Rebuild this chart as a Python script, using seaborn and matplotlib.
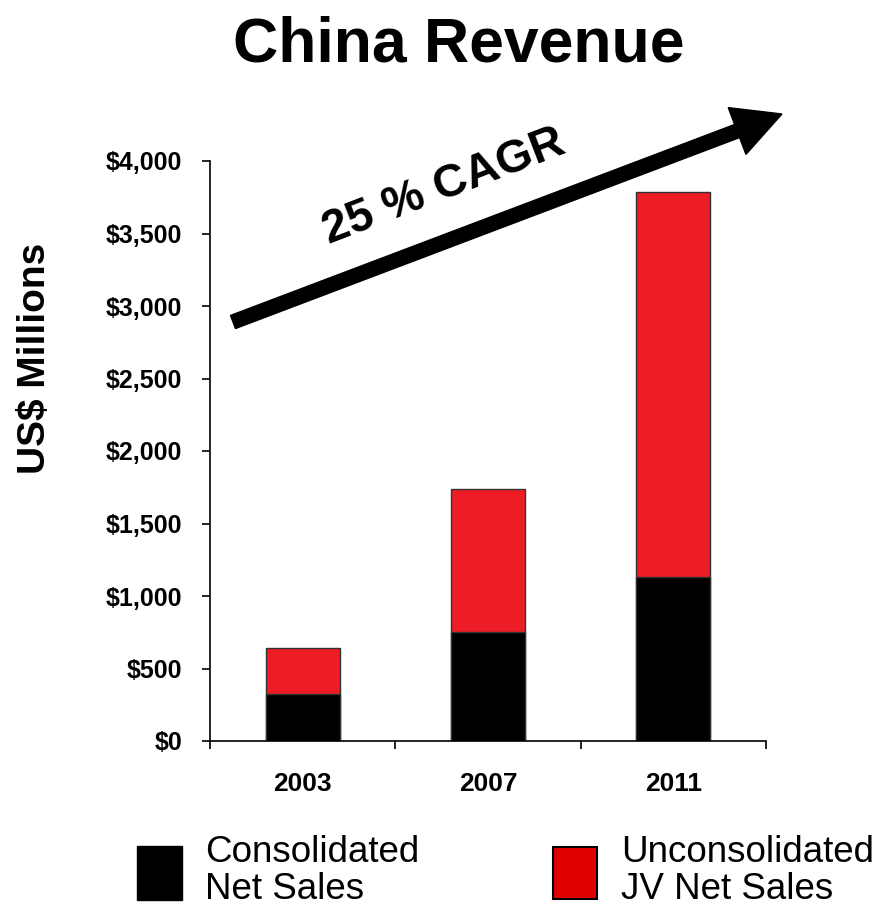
import matplotlib
matplotlib.use("Agg")
import matplotlib.pyplot as plt
import seaborn as sns
import pandas as pd
from matplotlib.patches import FancyArrow, Rectangle

years = ["2003", "2007", "2011"]
consolidated = [324, 752, 1131]
unconsolidated = [317, 986, 2655]
yticks = [0, 500, 1000, 1500, 2000, 2500, 3000, 3500, 4000]
ytick_labels = ["$0", "$500", "$1,000", "$1,500", "$2,000", "$2,500", "$3,000", "$3,500", "$4,000"]

sns.set_theme(style="white")
plt.rcParams["font.family"] = ["Liberation Sans", "DejaVu Sans"]
plt.rcParams["text.color"] = "black"
plt.rcParams["xtick.color"] = "black"
plt.rcParams["ytick.color"] = "black"
plt.rcParams["axes.labelcolor"] = "black"

df = pd.DataFrame({"year": years, "cons": consolidated,
                   "total": [c + u for c, u in zip(consolidated, unconsolidated)]})

W, H = 882, 909
fig = plt.figure(figsize=(W / 100, H / 100), dpi=100)
ax = fig.add_axes([210 / W, (H - 741) / H, (766 - 210) / W, (741 - 161) / H])

RED = "#EE1C25"
sns.barplot(data=df, x="year", y="total", color=RED, width=0.4, saturation=1,
            edgecolor="#333333", linewidth=1, ax=ax)
sns.barplot(data=df, x="year", y="cons", color="black", width=0.4, saturation=1,
            edgecolor="#333333", linewidth=1, ax=ax)

ax.set_xlim(-0.5, 2.5)
ax.set_ylim(0, 4000)
ax.set_yticks(yticks)
ax.set_yticklabels(ytick_labels, fontsize=18, fontweight="bold", color="black")
ax.set_xticks([-0.5, 0.5, 1.5, 2.5])
ax.set_xticks([0, 1, 2], minor=True)
ax.set_xticklabels([])
ax.set_xticklabels(years, minor=True, fontsize=19, fontweight="bold", color="black")
ax.tick_params(axis="y", which="major", direction="out", length=6, width=1.2,
               color="black", pad=14, left=True)
ax.tick_params(axis="x", which="major", direction="out", length=6, width=1.2,
               color="black", bottom=True)
ax.tick_params(axis="x", which="minor", length=0, pad=22, bottom=True)
ax.set_xlabel("")
ax.set_ylabel("")
for s in ["top", "right"]:
    ax.spines[s].set_visible(False)
for s in ["left", "bottom"]:
    ax.spines[s].set_color("black")
    ax.spines[s].set_linewidth(1.2)

fig.text(35 / W, 1 - 358 / H, "US$ Millions", rotation=90, fontsize=28,
         fontweight="bold", ha="center", va="center", color="black")
fig.text(459 / W, 1 - 45 / H, "China Revenue", fontsize=45, fontweight="bold",
         ha="center", va="center", color="black")

# growth arrow
x0, y0 = 233, H - 322
x1, y1 = 782, H - 114
arrow = FancyArrow(x0, y0, x1 - x0, y1 - y0, width=14, head_width=50,
                   head_length=48, length_includes_head=True, color="black",
                   transform=None)
fig.add_artist(arrow)
fig.text(444 / W, 1 - 187 / H, "25 % CAGR", rotation=21, fontsize=33.5,
         fontweight="bold", ha="center", va="center", rotation_mode="anchor",
         color="black")

# legend
fig.add_artist(Rectangle((137 / W, 1 - 900 / H), 45 / W, 54 / H, facecolor="black",
                         edgecolor="black", transform=fig.transFigure))
fig.add_artist(Rectangle((553 / W, 1 - 899 / H), 44 / W, 52 / H, facecolor="#E00000",
                         edgecolor="black", linewidth=1.5, transform=fig.transFigure))
fig.text(205 / W, 1 - 871 / H, "Consolidated\nNet Sales", fontsize=26.5,
         ha="left", va="center", linespacing=1.05, color="black")
fig.text(621 / W, 1 - 871 / H, "Unconsolidated\nJV Net Sales", fontsize=26.5,
         ha="left", va="center", linespacing=1.05, color="black")

fig.savefig("out.png", dpi=100)
